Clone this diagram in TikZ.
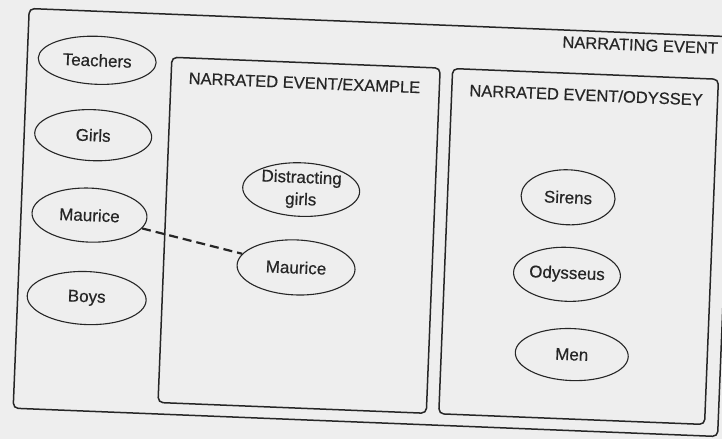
\documentclass[tikz,border=0pt]{standalone}
\usepackage{fontspec}
\setmainfont{Liberation Sans}[FakeBold=0.5]
\usetikzlibrary{shapes.geometric}
\definecolor{paper}{HTML}{EEEEEE}
\definecolor{ink}{HTML}{262626}
\begin{document}
\begin{tikzpicture}[x=1pt,y=-1pt,
  frame/.style={draw=ink, line width=1.5pt, rounded corners=5pt},
  actor/.style={ellipse, draw=ink, line width=1.1pt, inner sep=0pt,
    font=\fontsize{17}{22}\selectfont, text=ink, align=center},
  heading/.style={font=\fontsize{16.5}{19}\selectfont, text=ink,
    inner sep=0pt, anchor=west},
  link/.style={draw=ink, line width=2.2pt, dash pattern=on 9pt off 5pt}]
\fill[paper] (0,0) rectangle (722,439);
\useasboundingbox (0,0) rectangle (722,439);
\clip (0,0) rectangle (722,439);
\begin{scope}[rotate around={-2.3:(361,220)}, transform shape]
  % frames
  \draw[frame] (21,22) rectangle (726,422);
  \draw[frame] (165.5,65) rectangle (434,410.5);
  \draw[frame] (446.5,65) rectangle (712.5,410.5);
  % headings
  \node[heading] (narrating) at (555,34) {NARRATING EVENT};
  \node[heading] (example) at (183,85) {NARRATED EVENT/EXAMPLE};
  \node[heading] (odyssey) at (464,86) {NARRATED EVENT/ODYSSEY};
  % participants of the narrating event
  \node[actor, minimum width=118pt, minimum height=48pt] (teachers) at (91,71) {Teachers};
  \node[actor, minimum width=117pt, minimum height=51pt] (girls) at (90,146) {Girls};
  \node[actor, minimum width=115pt, minimum height=54pt] (mauriceA) at (89.5,226) {Maurice};
  \node[actor, minimum width=119pt, minimum height=53pt] (boys) at (90,309) {Boys};
  % example
  \node[actor, minimum width=117pt, minimum height=52pt] (distract) at (300,192) {Distracting\\girls};
  \node[actor, minimum width=118pt, minimum height=55pt] (mauriceB) at (298,270) {Maurice};
  % odyssey
  \node[actor, minimum width=94pt, minimum height=55pt] (sirens) at (567,189) {Sirens};
  \node[actor, minimum width=105pt, minimum height=54pt] (odysseus) at (569,266) {Odysseus};
  \node[actor, minimum width=113pt, minimum height=52pt] (men) at (577,346) {Men};
  % identity link
  \draw[link] (mauriceA) -- (mauriceB);
\end{scope}
\end{tikzpicture}
\end{document}
